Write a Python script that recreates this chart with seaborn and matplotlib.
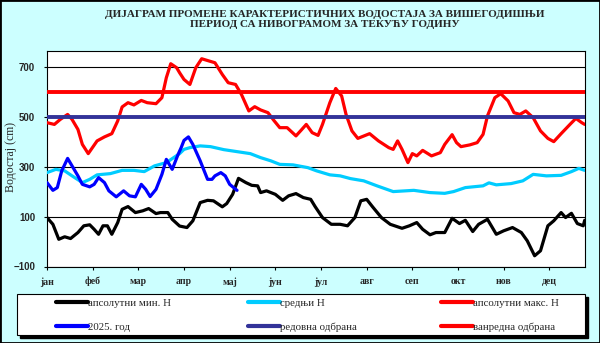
import matplotlib
matplotlib.use("Agg")
import matplotlib.pyplot as plt
from matplotlib.patches import Rectangle
from matplotlib.lines import Line2D
import seaborn as sns

# Month labels (tick every 31 days on a 365-day axis)
months = ["јан", "феб", "мар", "апр", "мај", "јун",
          "јул", "авг", "сеп", "окт", "нов", "дец"]
month_ticks = [0, 31, 62, 93, 124, 155, 186, 217, 248, 279, 310, 341]

# Absolute minimum water level (cm) by day of year
min_day = [0, 4, 8, 12, 16, 21, 25, 29, 32, 35, 38, 41, 44, 48, 51, 55, 60, 65, 69, 74,
           77, 82, 85, 90, 95, 99, 104, 109, 113, 119, 122, 126, 130, 135, 139, 143,
           145, 149, 155, 160, 164, 169, 174, 179, 182, 187, 193, 199, 204, 209, 213,
           217, 221, 227, 233, 241, 246, 251, 255, 260, 264, 270, 275, 280, 284, 289,
           293, 299, 305, 310, 316, 322, 326, 331, 335, 340, 344, 349, 352, 356, 360,
           364, 365]
min_h = [96, 69, 9, 19, 12, 36, 63, 67, 49, 29, 63, 63, 29, 76, 129, 140, 116, 123, 132,
         112, 116, 116, 89, 62, 56, 83, 156, 165, 163, 139, 152, 189, 253, 236, 225, 223,
         196, 203, 189, 165, 183, 192, 176, 169, 140, 96, 69, 69, 63, 96, 163, 169, 139,
         96, 69, 53, 63, 76, 49, 27, 36, 36, 93, 72, 85, 40, 69, 89, 29, 43, 56, 36, 3,
         -57, -37, 63, 83, 116, 96, 113, 72, 63, 85]

# Mean water level (cm)
mean_day = [0, 6, 12, 17, 24, 29, 34, 43, 51, 59, 66, 73, 81, 86, 90, 93, 97, 104, 111,
            120, 129, 138, 145, 152, 158, 167, 177, 183, 192, 199, 206, 215, 224, 235,
            249, 260, 270, 276, 284, 296, 300, 305, 315, 323, 330, 339, 349, 356, 361, 365]
mean_h = [276, 289, 283, 263, 236, 249, 267, 272, 285, 285, 280, 303, 316, 336, 352, 369,
          376, 383, 380, 368, 360, 352, 336, 323, 309, 307, 296, 283, 267, 263, 252, 243,
          223, 200, 205, 196, 193, 200, 216, 223, 235, 227, 232, 243, 269, 263, 265, 280,
          293, 285]

# Absolute maximum water level (cm)
max_day = [0, 5, 9, 14, 17, 21, 24, 28, 34, 39, 44, 48, 51, 55, 59, 64, 68, 74, 78, 81,
           84, 88, 90, 93, 97, 101, 105, 110, 114, 119, 123, 128, 132, 137, 141, 145,
           150, 154, 158, 163, 169, 173, 176, 180, 184, 187, 192, 196, 200, 203, 207,
           211, 219, 225, 232, 235, 238, 241, 245, 248, 251, 255, 261, 267, 270, 275,
           278, 281, 287, 292, 296, 299, 304, 308, 313, 317, 321, 325, 330, 335, 340,
           344, 349, 355, 359, 363, 365]
max_h = [476, 469, 489, 509, 489, 449, 389, 352, 403, 419, 432, 483, 539, 556, 547, 565,
         556, 552, 576, 656, 712, 696, 676, 649, 629, 696, 732, 723, 716, 669, 636, 629,
         589, 523, 540, 527, 516, 485, 456, 456, 423, 449, 469, 436, 425, 469, 556, 613,
         583, 509, 443, 413, 432, 403, 376, 369, 403, 369, 316, 352, 343, 365, 343, 356,
         389, 428, 396, 380, 387, 396, 429, 503, 576, 592, 563, 516, 509, 523, 496, 443,
         413, 400, 432, 469, 493, 476, 469]

# Current year (2025) water level (cm)
cur_day = [0, 4, 7, 10, 14, 17, 21, 24, 29, 32, 35, 39, 42, 47, 52, 56, 60, 64, 67, 70,
           74, 78, 81, 85, 89, 91, 93, 96, 99, 104, 109, 112, 114, 118, 121, 124, 129]
cur_h = [236, 205, 216, 283, 333, 303, 263, 229, 219, 229, 256, 236, 203, 179, 203, 183,
         179, 229, 209, 180, 209, 269, 329, 289, 349, 375, 405, 419, 389, 323, 249, 249,
         263, 276, 263, 229, 205]

# Flood defence thresholds (cm)
regular_defence = 500
emergency_defence = 600

labels = ["апсолутни мин. H", "средњи H", "апсолутни макс. H",
          "2025. год", "редовна одбрана", "ванредна одбрана"]
colors = ["black", "#00ccff", "#ff0000", "#0000ff", "#333399", "#ff0000"]

sns.set_theme(style="white")
plt.rcParams["font.family"] = ["Liberation Serif", "DejaVu Serif"]

W, H = 600, 343
BG = "#ccffff"
fig = plt.figure(figsize=(6, 3.43), dpi=100, facecolor=BG)
ax = fig.add_axes([47 / W, 1 - 266.5 / H, 537.7 / W, 216 / H])
ax.set_facecolor("white")

LW = 2.3
line_kw = dict(estimator=None, lw=LW, solid_capstyle="round", solid_joinstyle="round")
sns.lineplot(x=min_day, y=min_h, ax=ax, color=colors[0], zorder=3, **line_kw)
sns.lineplot(x=mean_day, y=mean_h, ax=ax, color=colors[1], zorder=4, **line_kw)
sns.lineplot(x=max_day, y=max_h, ax=ax, color=colors[2], zorder=5, **line_kw)
sns.lineplot(x=cur_day, y=cur_h, ax=ax, color=colors[3], zorder=6, **line_kw)
ax.axhline(regular_defence, color=colors[4], lw=2.8, zorder=7)
ax.axhline(emergency_defence, color=colors[5], lw=2.8, zorder=8)

ax.set_xlim(0, 365)
ax.set_ylim(-100, 765)
ax.set_yticks([-100, 100, 300, 500, 700])
ax.set_xticks(month_ticks)
ax.set_xticklabels(months, fontsize=7, fontweight="bold")
for t in ax.get_yticklabels():
    t.set_fontfamily(["Liberation Sans", "DejaVu Sans"])
    t.set_fontweight("bold")
    t.set_fontsize(7)
ax.tick_params(axis="both", which="major", direction="out", length=2.5, width=0.8,
               color="black", bottom=True, left=True)
ax.tick_params(axis="x", pad=5)
ax.tick_params(axis="y", pad=6)
ax.yaxis.grid(True, color="black", lw=0.8)
ax.set_axisbelow(True)
for s in ax.spines.values():
    s.set_color("black")
    s.set_linewidth(0.8)
ax.set_xlabel("")
ax.set_ylabel("")

fig.text(11 / W, 1 - 157 / H, "Водостај (cm)", rotation=90, ha="center",
         va="center", fontsize=8.5)
fig.text(325 / W, 1 - 10 / H,
         "ДИЈАГРАМ ПРОМЕНЕ КАРАКТЕРИСТИЧНИХ ВОДОСТАЈА ЗА ВИШЕГОДИШЊИ\n"
         "ПЕРИОД СА НИВОГРАМОМ ЗА ТЕКУЋУ ГОДИНУ",
         ha="center", va="top", fontsize=8, fontweight="bold", linespacing=1.15)

# Legend box with a solid drop shadow
lx0, ly0, lx1, ly1 = 17, 294, 585, 335
fig.patches.append(Rectangle(((lx0 + 3) / W, 1 - (ly1 + 3) / H), (lx1 - lx0) / W,
                             (ly1 - ly0) / H, transform=fig.transFigure,
                             facecolor="black", edgecolor="black", zorder=5))
fig.patches.append(Rectangle((lx0 / W, 1 - ly1 / H), (lx1 - lx0) / W, (ly1 - ly0) / H,
                             transform=fig.transFigure, facecolor="white",
                             edgecolor="black", lw=0.8, zorder=6))

handles = [Line2D([], [], color=c, lw=3.0) for c in colors]
col_x = [53, 245, 438]
for i, cx in enumerate(col_x):
    leg = fig.legend([handles[i], handles[i + 3]], [labels[i], labels[i + 3]],
                     loc="upper left", bbox_to_anchor=(cx / W, 1 - 295 / H),
                     frameon=False, handlelength=2.9, handletextpad=0.05,
                     fontsize=7.8, borderaxespad=0, borderpad=0.3, labelspacing=1.3)
    leg.set_zorder(7)

fig.patches.append(Rectangle((0, 0), 1, 1, transform=fig.transFigure, fill=False,
                             edgecolor="black", lw=2, zorder=10))

fig.savefig("out.png", dpi=100, facecolor=BG)
